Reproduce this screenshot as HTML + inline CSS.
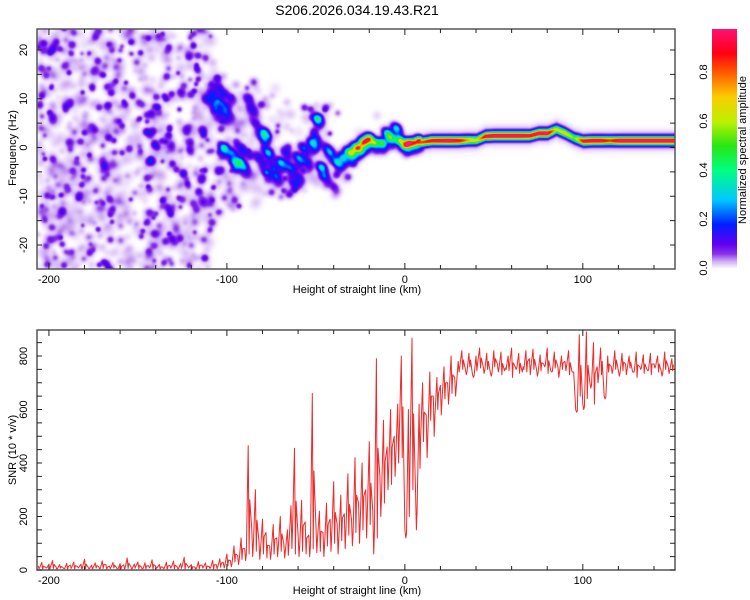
<!DOCTYPE html>
<html><head><meta charset="utf-8"><style>
body{margin:0;background:#fff;}
#wrap{position:relative;width:750px;height:600px;overflow:hidden;font-family:"Liberation Sans",sans-serif;}
</style></head><body>
<div id="wrap">
<canvas id="hm" width="638" height="240" style="position:absolute;left:37px;top:29px"></canvas>
<svg id="svg" width="750" height="600" style="position:absolute;left:0;top:0"></svg>
</div>
<script>
// ---- data ----
const snrStart = -206, snrStep = 2;
const snrValues = [15,28,10,22,35,12,20,8,25,18,30,14,22,40,10,18,26,12,34,20,15,28,9,24,19,45,13,22,30,11,27,16,38,14,21,10,29,17,33,12,24,48,15,20,11,31,18,26,13,36,
20,42,28,60,35,90,55,120,80,465,150,300,110,190,140,90,170,120,200,100,150,240,455,130,260,180,130,660,170,220,140,250,190,330,170,280,210,360,190,420,250,400,300,480,220,790,350,560,460,600,
500,620,800,150,600,867,300,620,700,580,740,650,720,690,760,700,800,720,
780,820,750,810,730,800,830,760,810,740,820,770,815,745,800,830,760,810,740,820,790,825,750,805,770,830,745,815,760,800,780,820,740,
600,880,620,890,700,850,760,830,650,
800,760,820,745,810,770,800,740,815,760,805,750,810,770,800,745,815,760,790];
const snrLow = [5,2,8,3,6,1,7,4,2,6,3,8,1,5,4,2,7,3,6,2,5,8,1,4,3,6,2,7,5,1,4,8,3,6,2,5,1,7,4,3,6,2,8,5,1,4,7,3,6,2,
5,10,8,15,12,30,20,40,35,60,50,70,40,60,45,40,60,50,70,45,55,80,60,50,70,60,50,80,65,70,50,90,70,100,60,110,80,130,90,140,100,150,120,170,60,120,200,250,300,320,
350,400,420,120,200,300,150,380,480,420,560,500,600,580,640,620,660,650,
740,750,730,760,720,745,755,735,750,725,760,740,730,755,745,720,750,735,760,740,730,750,725,745,760,735,740,755,720,750,745,730,740,
590,650,600,640,680,620,700,730,640,
740,735,750,725,745,730,755,740,720,750,735,745,730,755,740,725,750,735,745];
const ridgeH = [0,5,10,15,20,25,30,35,40,45,50,55,60,65,70,75,80,85,90,95,100,105,110,115,120,125,130,135,140,145,150];
const ridgeF = [0.8,1.0,1.2,1.5,1.5,1.5,1.5,1.6,1.6,2.4,2.5,2.5,2.5,2.5,2.5,3.0,3.0,3.8,3.0,2.0,1.4,1.5,1.5,1.5,1.5,1.5,1.5,1.5,1.5,1.5,1.5];
const ridgeA = [0.6,0.75,0.8,0.9,0.93,0.95,0.9,0.7,0.6,0.9,0.95,0.95,0.95,0.95,0.9,0.95,0.95,0.6,0.65,0.5,0.9,0.92,0.92,0.8,0.95,0.95,0.95,0.95,0.95,0.95,0.95];
const blobH = [-108,-104,-106,-103,-100,-110,-102,-97,-93,-90,-96,-92,-88,-86,-84,-80,-79,-77,-82,-78,-74,-72,-70,-67,-65,-63,-60,-60,-57,-55,-52,-50,-49,-47,-45,-44,-42,-38,-40,-35,-32,-30,-28,-26,-24,-22,-20,-17,-13,-10,-8,-5,-3,0,2,5,8];
const blobF = [11,12,8,9,7,10,0,-1,-3,-4,-3,0,10,8,5,2,3,-1,-2,-5,-4,-6,-3,-1,-4,-7,-2,-6,0,-3,1,2,6,-4,-6,0,-1,-3,-8,-2,-1,-1,0,0,1,1.5,2,1,1,3,2,4,1.5,0.5,1,1,1.5];
const blobA = [0.1,0.1,0.12,0.15,0.1,0.08,0.3,0.15,0.3,0.12,0.15,0.12,0.08,0.08,0.1,0.12,0.3,0.25,0.1,0.15,0.12,0.12,0.25,0.12,0.15,0.1,0.2,0.12,0.15,0.12,0.25,0.12,0.35,0.3,0.12,0.12,0.15,0.3,0.08,0.25,0.3,0.4,0.4,0.5,0.55,0.55,0.5,0.4,0.45,0.35,0.35,0.3,0.5,0.55,0.7,0.6,0.8];
const xTicks = [-200,-100,0,100];
const freqTicks = [-20,-10,0,10,20];
const snrTicks = [0,200,400,600,800];
const cbTicks = [0.0,0.2,0.4,0.6,0.8];

// ---- scales ----
const X0=37,X1=675,KM0=-206.7,KM1=151.8;
const xs = v => X0 + (v-KM0)/(KM1-KM0)*(X1-X0);
const T0=29,T1=269;
const yf = v => 147.5 - v*4.875;
const B0=330,B1=570;
const ys = v => 570 - v*0.2675;
const CB0=712,CB1=737;
const yc = v => 268 - v*245;

// ---- colormap ----
const stops=[[0,255,255,255],[0.008,240,228,252],[0.03,205,170,242],[0.06,135,50,232],[0.1,95,0,240],[0.18,0,30,255],[0.28,0,200,255],[0.4,0,255,130],[0.5,40,230,20],[0.6,190,240,0],[0.7,250,205,0],[0.8,255,90,0],[0.88,255,0,20],[1.0,255,20,140]];
function cmap(a){a=Math.max(0,Math.min(1,a));for(let i=1;i<stops.length;i++){if(a<=stops[i][0]){const s=stops[i-1],e=stops[i],t=(a-s[0])/(e[0]-s[0]);return [s[1]+t*(e[1]-s[1]),s[2]+t*(e[2]-s[2]),s[3]+t*(e[3]-s[3])];}}return stops[stops.length-1].slice(1);}

// ---- heatmap ----
(function(){
const W=638,H=240,f=new Float32Array(W*H);
function blob(px,py,a,s){const r=Math.ceil(s*3);for(let y=Math.max(0,Math.floor(py-r));y<Math.min(H,py+r);y++)for(let x=Math.max(0,Math.floor(px-r));x<Math.min(W,px+r);x++){const d=(x-px)*(x-px)+(y-py)*(y-py);f[y*W+x]+=a*Math.exp(-d/(2*s*s));}}
let seed=12345;const rnd=()=>{seed=(seed*1103515245+12345)%2147483648;return seed/2147483648;};
// background noise texture
for(let i=0;i<3600;i++){const km=KM0+rnd()*(110-KM0+20);const hz=-25+rnd()*50;let dens=1;
 if(km>-108){dens=Math.max(0,1-(km+108)/100);const lim=5+10*dens;if(Math.abs(hz-1)>lim)continue;if(rnd()>dens*1.1)continue;}
 const r=rnd();const dark=r>0.74;const a=dark?0.04+rnd()*0.05:0.006+rnd()*0.016;blob(xs(km)-X0,yf(hz)-T0,a,dark?1.6+rnd()*1.3:2+rnd()*2);}
for(let i=0;i<blobH.length;i++){blob(xs(blobH[i])-X0,yf(blobF[i])-T0,blobA[i],2.8);
 blob(xs(blobH[i])-X0+3,yf(blobF[i])-T0+4,Math.min(0.1,blobA[i]*0.5),3);
 blob(xs(blobH[i])-X0-3,yf(blobF[i])-T0-3,Math.min(0.08,blobA[i]*0.4),2.8);
 blob(xs(blobH[i])-X0+1,yf(blobF[i])-T0+8,Math.min(0.06,blobA[i]*0.3),3);}
// ridge
for(let x=0;x<W;x++){const km=KM0+x/(W)*(KM1-KM0);if(km<ridgeH[0])continue;let k=0;while(k<ridgeH.length-2&&km>ridgeH[k+1])k++;
 const t=Math.min(1,(km-ridgeH[k])/(ridgeH[k+1]-ridgeH[k]));const fr=ridgeF[k]+t*(ridgeF[k+1]-ridgeF[k]);const am=ridgeA[k]+t*(ridgeA[k+1]-ridgeA[k]);
 const py=yf(fr)-T0;for(let y=Math.max(0,Math.floor(py-18));y<Math.min(H,py+18);y++){const d=y-py;const v=am*Math.exp(-d*d/(2*2.7*2.7))+0.05*Math.exp(-d*d/(2*5.5*5.5));const i=y*W+x;if(v>f[i])f[i]=v;}}
const c=document.getElementById('hm').getContext('2d');const img=c.createImageData(W,H);
for(let i=0;i<W*H;i++){const col=cmap(f[i]);img.data[i*4]=col[0];img.data[i*4+1]=col[1];img.data[i*4+2]=col[2];img.data[i*4+3]=255;}
c.putImageData(img,0,0);
})();

// ---- svg ----
const NS='http://www.w3.org/2000/svg',svg=document.getElementById('svg');
function el(t,a,p){const e=document.createElementNS(NS,t);for(const k in a)e.setAttribute(k,a[k]);(p||svg).appendChild(e);return e;}
function txt(s,x,y,size,rot,anchor){const e=el('text',{x:x,y:y,'font-size':size,'text-anchor':anchor||'middle',fill:'#000','font-family':'Liberation Sans, sans-serif'});if(rot)e.setAttribute('transform','rotate(-90 '+x+' '+y+')');e.textContent=s;return e;}

let t=txt('S206.2026.034.19.43.R21',357,15,14);


// colorbar
const cbg=el('g',{});
for(let y=29;y<268;y++){const v=(268-y)/245;const col=cmap(v);el('rect',{x:CB0,y:y,width:CB1-CB0,height:1.2,fill:'rgb('+col.map(Math.round).join(',')+')'},cbg);}
cbTicks.forEach(v=>{const l=txt(v.toFixed(1),707,yc(v),11,true);});
t=txt('Normalized spectral amplitude',746,150,11,true);

function frame(top,bot,name){const g=el('g',{});
 el('rect',{x:X0,y:top,width:X1-X0,height:bot-top,fill:'none',stroke:'#555','stroke-width':1.5},g);
 for(let v=-200;v<=140;v+=20){const x=xs(v);const L=(v%100===0)?6:4;el('line',{x1:x,x2:x,y1:top,y2:top+L,stroke:'#222'},g);el('line',{x1:x,x2:x,y1:bot,y2:bot-L,stroke:'#222'},g);}
 xTicks.forEach(v=>{const l=txt(String(v),xs(v),bot+14,11);});
 const a=txt('Height of straight line (km)',357,bot+24,11);
 return g;}
const g1=frame(T0,T1,'spectrogram-axes');
for(let v=-25;v<=20;v+=5){const y=yf(v);if(y<T0||y>T1)continue;el('line',{x1:X0,x2:X0+5,y1:y,y2:y,stroke:'#222'},g1);el('line',{x1:X1,x2:X1-5,y1:y,y2:y,stroke:'#222'},g1);}
freqTicks.forEach(v=>{const l=txt(String(v),27,yf(v),11,true);});
t=txt('Frequency (Hz)',16,148,11,true);

const g2=frame(B0,B1,'snr-axes');
for(let v=0;v<=850;v+=50){const y=ys(v);el('line',{x1:X0,x2:X0+5,y1:y,y2:y,stroke:'#222'},g2);el('line',{x1:X1,x2:X1-5,y1:y,y2:y,stroke:'#222'},g2);}
snrTicks.forEach(v=>{const l=txt(String(v),27,ys(v),11,true);});
t=txt('SNR (10 * v/v)',16,450,11,true);

const pts=[];
snrValues.forEach((v,i)=>{const x=xs(snrStart+i*snrStep);pts.push(x.toFixed(1)+','+Math.max(B0,ys(v)).toFixed(1));pts.push((x+0.9).toFixed(1)+','+ys(snrLow[i]).toFixed(1));pts.push((x+1.6).toFixed(1)+','+Math.max(B0,ys((v+snrLow[i])/2)).toFixed(1));});
const line=el('polyline',{points:pts.join(' '),fill:'none',stroke:'#ee2a2a','stroke-width':1,'stroke-linejoin':'round'});


</script>
</body></html>
